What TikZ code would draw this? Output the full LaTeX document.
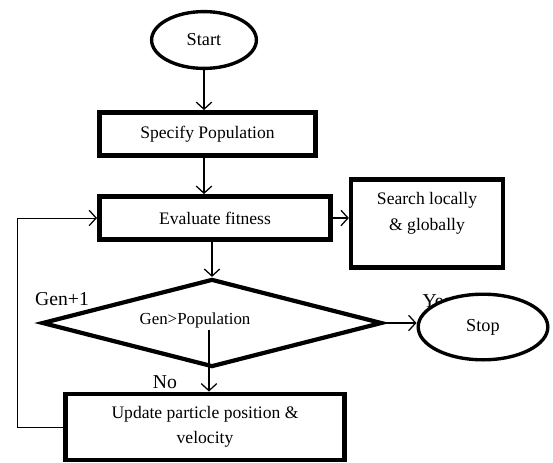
\documentclass[tikz,border=0pt]{standalone}
\usepackage{fontspec}
\setmainfont{Liberation Serif}
\usetikzlibrary{positioning, arrows.meta, shapes.geometric, calc}

\begin{document}
\begin{tikzpicture}[x=0.025cm, y=-0.025cm,
    term/.style={draw, ellipse, line width=2.4pt, inner sep=0pt, font=\fontsize{13}{15}\selectfont},
    procbox/.style={draw, rectangle, line width=3.5pt, inner sep=0pt, font=\fontsize{12.5}{17.5}\selectfont, align=center},
    decision/.style={draw, diamond, line width=3pt, inner sep=0pt, minimum width=8.5cm, minimum height=2.2cm},
    lbl/.style={font=\fontsize{14}{16}\selectfont},
    flow/.style={line width=0.9pt, -{Straight Barb[length=5pt, width=11pt, line width=0.9pt]}}]
    \useasboundingbox (0,0) rectangle (553,462);
    \node[term, minimum width=2.62cm, minimum height=1.42cm] (start) at (204,40) {Start};
    \node[procbox, minimum width=5.4cm, minimum height=1.075cm] (spec) at (207.5,134) {Specify Population};
    \node[procbox, minimum width=5.775cm, minimum height=1.075cm] (eval) at (215,218) {Evaluate fitness};
    \node[procbox, line width=3pt, minimum width=3.8cm, minimum height=2.2cm] (search) at (427,223.5) {};
    \node[font=\fontsize{12.5}{18.5}\selectfont, align=center] (searchtext) at (427,213) {Search locally\\\& globally};
    \node[decision] (dec) at (212,323) {};
    \node[font=\fontsize{12}{14}\selectfont] (dectext) at (195,320) {Gen>Population};
    \node[procbox, minimum width=6.975cm, minimum height=1.65cm] (upd) at (205,427) {Update particle position \&\\velocity};
    \node[lbl] (gen) at (62,299) {Gen+1};
    \node[lbl] (no) at (165,382) {No};
    \node[lbl] (yes) at (437,301) {Yes};
    \node[term, fill=white, minimum width=3.24cm, minimum height=1.64cm] (stop) at (483,327) {Stop};
    \coordinate (decin) at (209,330);

    \draw[flow] (start.south) -- (start.south |- spec.north);
    \draw[flow] (start.south |- spec.south) -- (start.south |- eval.north);
    \draw[flow] (dec.north |- eval.south) -- (dec.north);
    \draw[flow] (eval.east) -- (eval.east -| search.west);
    \draw[flow] (decin) -- (decin |- upd.north);
    \draw[flow] (dec.east) -- (dec.east -| stop.west);
    \draw[flow, line width=0.7pt] (upd.west) -- ++(-46,0) |- (eval.west);
\end{tikzpicture}
\end{document}
